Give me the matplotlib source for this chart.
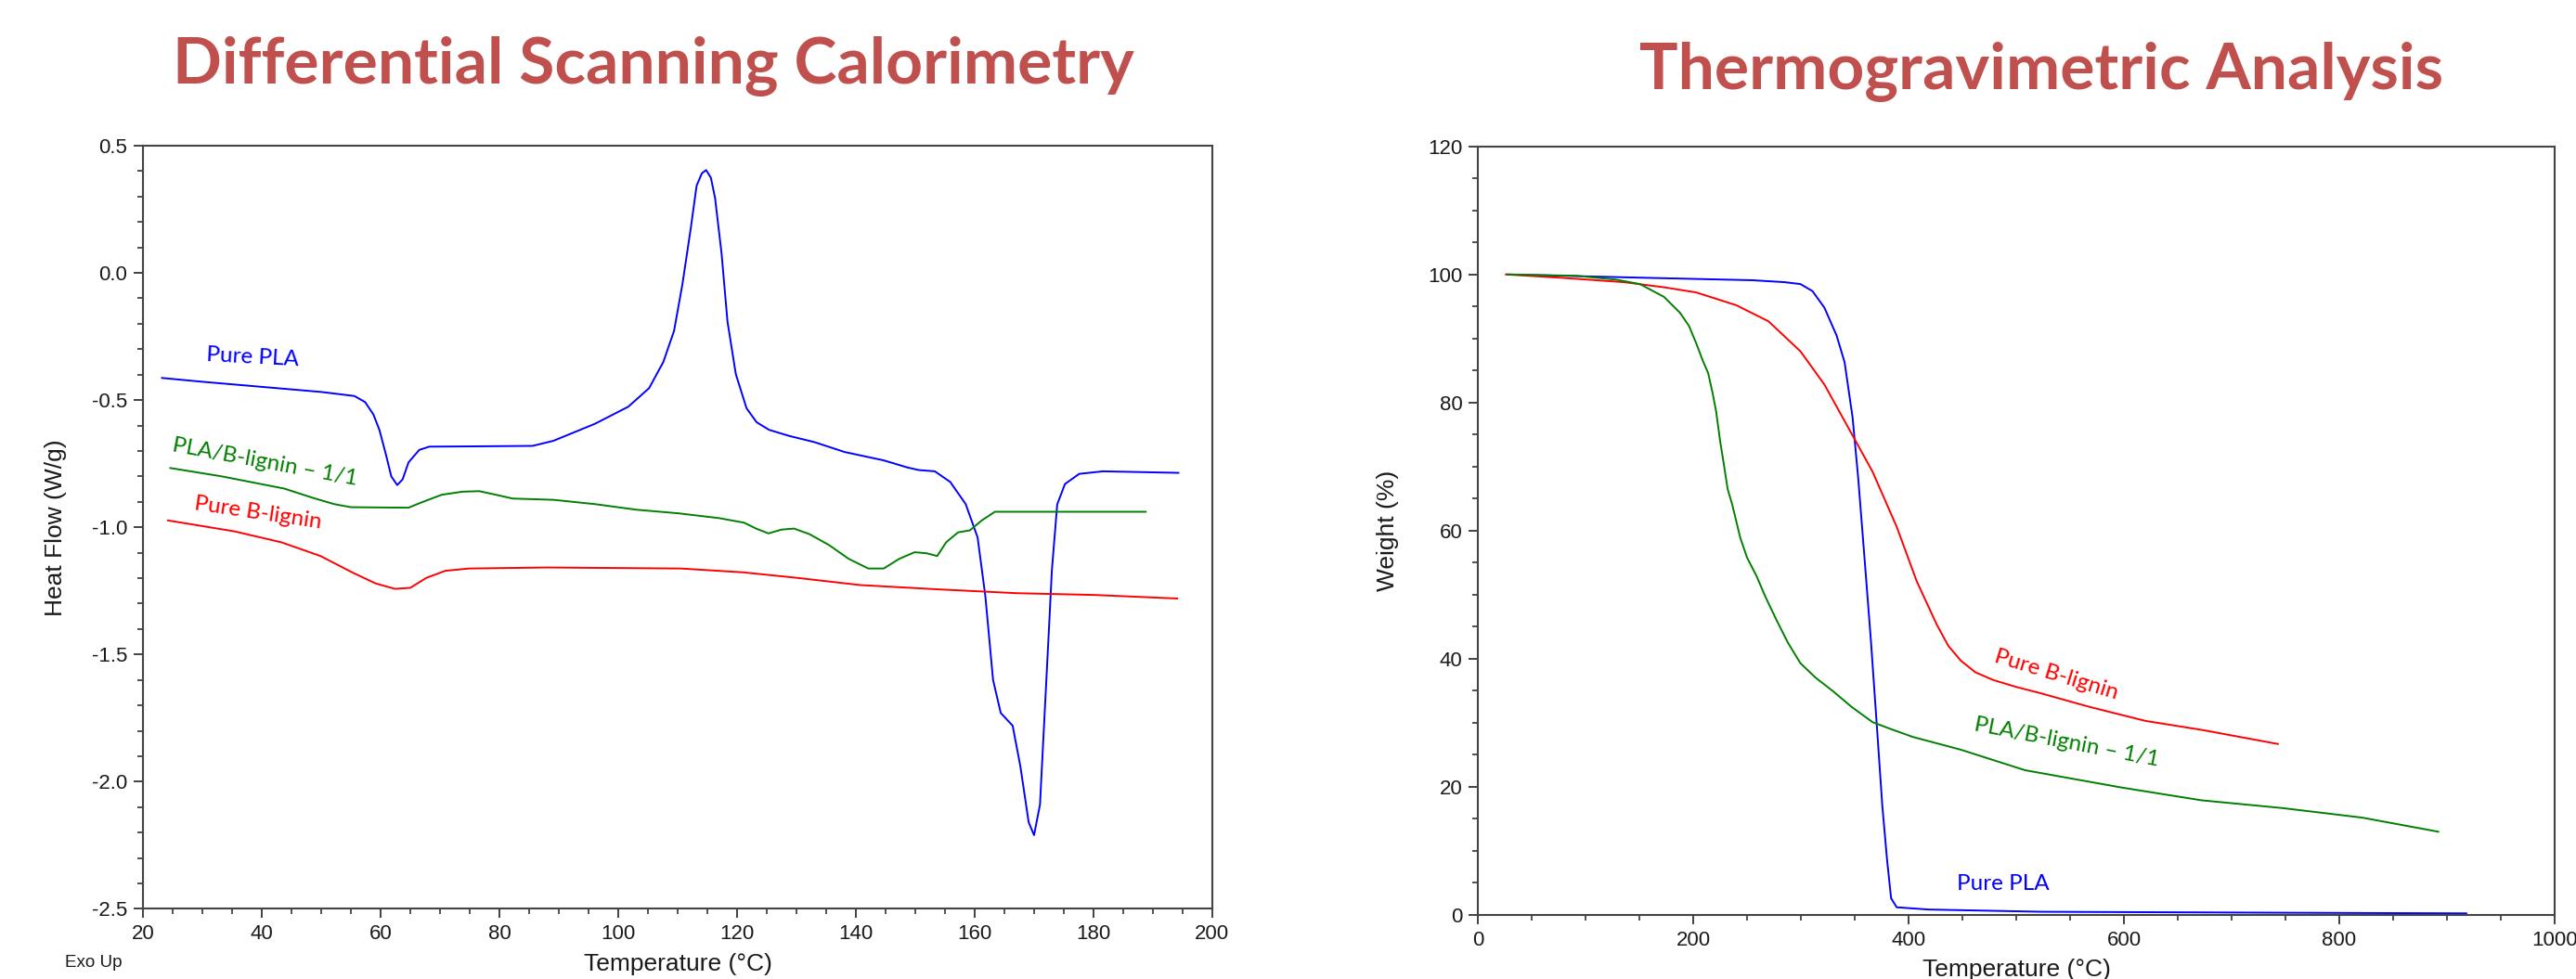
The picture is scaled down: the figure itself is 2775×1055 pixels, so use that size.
import matplotlib
matplotlib.use("Agg")
import matplotlib.pyplot as plt
from matplotlib.ticker import MultipleLocator, FormatStrFormatter

# ---- DSC data (Temperature degC, Heat Flow W/g) ----
dsc_pla_t = [23.2, 30, 40, 50, 55.6, 57.4, 58.8, 59.8, 60.9, 61.8, 62.8, 63.7,
             64.7, 66.5, 68.2, 75, 85.6, 89.1, 96.1, 101.7, 105.2, 107.6, 109.4,
             110.8, 112.2, 113.2, 114.1, 114.8, 115.6, 116.3, 117.4, 118.4,
             119.8, 121.6, 123.3, 125.4, 128.8, 133, 138.1, 144.7, 148.7, 150.6,
             153.3, 155.9, 158.5, 160.5, 161.8, 163.1, 164.4, 166.4, 167.7,
             169.1, 170, 171, 172.4, 173, 173.9, 175.2, 177.6, 181.6, 194.3]
dsc_pla_hf = [-0.413, -0.428, -0.448, -0.468, -0.484, -0.508, -0.557, -0.617,
              -0.714, -0.80, -0.834, -0.812, -0.745, -0.696, -0.683, -0.682,
              -0.68, -0.66, -0.593, -0.526, -0.453, -0.35, -0.228, -0.046,
              0.173, 0.343, 0.392, 0.404, 0.374, 0.295, 0.076, -0.192, -0.398,
              -0.532, -0.587, -0.617, -0.641, -0.665, -0.704, -0.737, -0.765,
              -0.775, -0.78, -0.822, -0.909, -1.04, -1.27, -1.60, -1.73, -1.78,
              -1.94, -2.16, -2.21, -2.09, -1.45, -1.17, -0.91, -0.83, -0.79,
              -0.78, -0.786]

dsc_mix_t = [24.6, 33.3, 43.8, 48.7, 52.2, 55, 64.7, 66.8, 70.3, 73.8, 76.6,
             79.4, 82.2, 89.1, 96.1, 103.1, 110.1, 117, 121.2, 123.3, 125.3,
             127.5, 129.6, 132.2, 135.5, 138.8, 142.1, 144.7, 147.3, 149.9,
             151.9, 153.7, 155.2, 157.2, 159.2, 161.2, 163.4, 167.1, 188.8]
dsc_mix_hf = [-0.767, -0.80, -0.848, -0.885, -0.909, -0.921, -0.923, -0.903,
              -0.872, -0.86, -0.858, -0.872, -0.887, -0.892, -0.909, -0.931,
              -0.945, -0.964, -0.982, -1.006, -1.024, -1.009, -1.005, -1.027,
              -1.07, -1.124, -1.162, -1.162, -1.124, -1.098, -1.102, -1.113,
              -1.059, -1.02, -1.012, -0.973, -0.939, -0.939, -0.939]

dsc_lig_t = [24.2, 35.4, 43.3, 49.9, 55.2, 59.1, 62.4, 65, 67.7, 70.9, 74.9,
             88.1, 110.5, 121, 130.2, 140.7, 153.9, 167.1, 180.2, 194.1]
dsc_lig_hf = [-0.973, -1.016, -1.059, -1.113, -1.177, -1.22, -1.242, -1.238,
              -1.199, -1.171, -1.162, -1.158, -1.162, -1.177, -1.199, -1.227,
              -1.244, -1.259, -1.266, -1.28]

# ---- TGA data (Temperature degC, Weight %) ----
tga_pla_t = [27.6, 150.5, 254.9, 284.7, 299.6, 310.8, 321.9, 333.1, 340.6, 348,
             353.2, 359.2, 365.1, 370.4, 375.6, 380.1, 383.8, 389, 418.8, 523,
             746.7, 918]
tga_pla_w = [100, 99.5, 99.1, 98.8, 98.5, 97.4, 94.8, 90.5, 86.3, 77.7, 68.3,
             55.5, 42.7, 29.9, 17.1, 8.5, 2.6, 1.2, 0.85, 0.5, 0.35, 0.25]

tga_lig_t = [26, 76, 135.6, 172.9, 202.7, 240, 269.8, 299.6, 321.9, 344.3,
             366.6, 389, 407.6, 426.3, 437, 448.6, 462, 478.4, 500, 523.1, 567.8,
             620, 672.2, 743]
tga_lig_w = [100, 99.5, 98.8, 98.0, 97.2, 95.2, 92.7, 88.0, 82.8, 76.0, 69.2,
             60.6, 52.1, 45.3, 42.0, 39.7, 37.9, 36.7, 35.6, 34.6, 32.5, 30.3,
             28.9, 26.7]

tga_mix_t = [27.6, 90.9, 128.2, 150.5, 172.9, 187.8, 196, 202.7, 209, 213.9,
             218, 221.3, 225, 228.8, 232, 236.2, 243.7, 250, 258.6, 267, 277.2,
             288, 299.6, 314, 329.4, 347, 366.6, 384, 403.9, 448.6, 508.2,
             597.7, 672.2, 746.7, 821.2, 892]
tga_mix_w = [100, 99.8, 99.2, 98.5, 96.5, 94.0, 92.0, 89.3, 86.5, 84.6, 81.5,
             78.6, 74.0, 70.0, 66.5, 64.1, 58.9, 55.8, 53.0, 49.7, 46.1, 42.5,
             39.3, 37.0, 35.0, 32.5, 30.1, 29.0, 27.8, 25.8, 22.6, 19.9, 17.9,
             16.7, 15.2, 13.0]

BLUE = "#0000FF"
GREEN = "#008000"
RED = "#FF0000"
TITLE_RED = "#C0504D"
AXIS_GRAY = "#444444"
LABEL_FONT = "Liberation Sans"
NOTE_FONT = "Lato"

plt.rcParams["axes.unicode_minus"] = False
plt.rcParams["font.family"] = LABEL_FONT


def style_axes(ax):
    for sp in ax.spines.values():
        sp.set_color(AXIS_GRAY)
        sp.set_linewidth(1.5)
    ax.tick_params(which="both", direction="out", color="#222222",
                   top=False, right=False, labelsize=16, labelcolor="#1a1a1a")
    ax.tick_params(which="major", length=7.5, width=1.2, pad=4.5)
    ax.tick_params(which="minor", length=4, width=1.1)


fig = plt.figure(figsize=(27.75, 10.55), dpi=100)

# ---------------- DSC ----------------
ax1 = fig.add_axes((0.0555, 0.0716, 0.4151, 0.7796))
style_axes(ax1)
ax1.plot(dsc_pla_t, dsc_pla_hf, color=BLUE, lw=1.4)
ax1.plot(dsc_mix_t, dsc_mix_hf, color=GREEN, lw=1.4)
ax1.plot(dsc_lig_t, dsc_lig_hf, color=RED, lw=1.4)
ax1.set_xlim(20, 200)
ax1.set_ylim(-2.5, 0.5)
ax1.xaxis.set_major_locator(MultipleLocator(20))
ax1.xaxis.set_minor_locator(MultipleLocator(5))
ax1.yaxis.set_major_locator(MultipleLocator(0.5))
ax1.yaxis.set_minor_locator(MultipleLocator(0.1))
ax1.yaxis.set_major_formatter(FormatStrFormatter("%.1f"))
ax1.set_ylabel("Heat Flow (W/g)", fontsize=19, color="#1a1a1a")
ax1.yaxis.set_label_coords(-0.071, 0.5)
ax1.set_xlabel("Temperature (°C)", fontsize=19, color="#1a1a1a")
ax1.xaxis.set_label_coords(0.5, -0.058)
ax1.text(-0.046, -0.07, "Exo Up", transform=ax1.transAxes, fontsize=13.5,
         color="#1a1a1a", ha="center", va="center")

ax1.text(38.4, -0.332, "Pure PLA", color=BLUE, fontsize=17.5, family=NOTE_FONT,
         rotation=-3, ha="center", va="center", rotation_mode="anchor")
ax1.text(40.5, -0.744, "PLA/B-lignin \u2013 1/1", color=GREEN, fontsize=17.5,
         family=NOTE_FONT, rotation=-10.5, ha="center", va="center",
         rotation_mode="anchor")
ax1.text(39.4, -0.944, "Pure B-lignin", color=RED, fontsize=17.5,
         family=NOTE_FONT, rotation=-8.5, ha="center", va="center",
         rotation_mode="anchor")

# ---------------- TGA ----------------
ax2 = fig.add_axes((0.5737, 0.0654, 0.418, 0.7851))
style_axes(ax2)
ax2.plot(tga_pla_t, tga_pla_w, color=BLUE, lw=1.4)
ax2.plot(tga_lig_t, tga_lig_w, color=RED, lw=1.4)
ax2.plot(tga_mix_t, tga_mix_w, color=GREEN, lw=1.4)
ax2.set_xlim(0, 1000)
ax2.set_ylim(0, 120)
ax2.xaxis.set_major_locator(MultipleLocator(200))
ax2.xaxis.set_minor_locator(MultipleLocator(50))
ax2.yaxis.set_major_locator(MultipleLocator(20))
ax2.yaxis.set_minor_locator(MultipleLocator(5))
ax2.set_ylabel("Weight (%)", fontsize=19, color="#1a1a1a")
ax2.yaxis.set_label_coords(-0.073, 0.5)
ax2.set_xlabel("Temperature (°C)", fontsize=19, color="#1a1a1a")
ax2.xaxis.set_label_coords(0.5, -0.057)

ax2.text(537, 37.5, "Pure B-lignin", color=RED, fontsize=17.5,
         family=NOTE_FONT, rotation=-17, ha="center", va="center",
         rotation_mode="anchor")
ax2.text(547, 27, "PLA/B-lignin \u2013 1/1", color=GREEN, fontsize=17.5,
         family=NOTE_FONT, rotation=-11, ha="center", va="center",
         rotation_mode="anchor")
ax2.text(488, 4.9, "Pure PLA", color=BLUE, fontsize=17.5, family=NOTE_FONT,
         ha="center", va="center")

# ---------------- Titles ----------------
fig.text(704 / 2775, 1 - 72 / 1055, "Differential Scanning Calorimetry",
         color=TITLE_RED, fontsize=50, fontweight="bold", family=NOTE_FONT,
         ha="center", va="center")
fig.text(2199 / 2775, 1 - 78 / 1055, "Thermogravimetric Analysis",
         color=TITLE_RED, fontsize=50, fontweight="bold", family=NOTE_FONT,
         ha="center", va="center")

fig.savefig("out.png", dpi=100, facecolor="white")
plt.close(fig)
